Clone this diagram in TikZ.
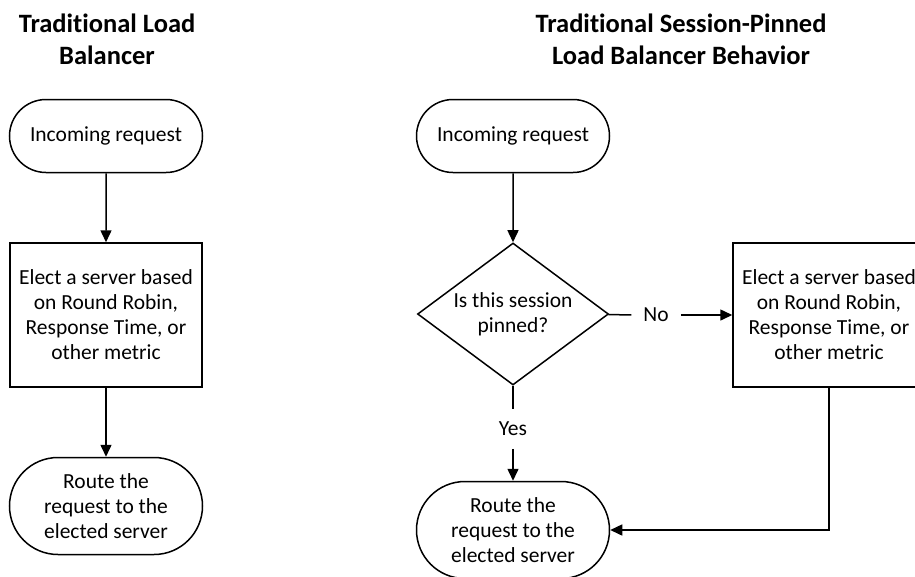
\documentclass[tikz,border=0pt]{standalone}
\usepackage{tikz}
\usetikzlibrary{positioning,shapes.geometric,shapes.misc}
\usetikzlibrary{arrows.meta}
\usepackage{fontspec}
\setmainfont[Ligatures=NoCommon]{Carlito}

\begin{document}
\begin{tikzpicture}[x=1pt, y=-1pt,
	>={Triangle[length=12pt,width=11pt]},
	every node/.style={font=\fontsize{21.5}{25}\selectfont, align=center, line width=1.5pt},
	title/.style={font=\fontsize{26.5}{32}\selectfont\bfseries},
	term/.style={rounded rectangle, draw, minimum width=193pt, inner sep=0pt},
	proc/.style={rectangle, draw, minimum width=192pt, minimum height=144pt, inner sep=0pt},
	decide/.style={diamond, draw, aspect=1.35, minimum width=191pt, minimum height=142pt, inner sep=0pt},
	answer/.style={inner sep=0pt, minimum width=48pt, minimum height=38pt}
	]
	\useasboundingbox (0,0) rectangle (915,576);

	\node[title] (t1) at (107,39) {Traditional Load\\Balancer};
	\node[title] (t2) at (681,39) {Traditional Session-Pinned\\Load Balancer Behavior};

	\node[term, minimum height=73pt] (in1) at (106,136) {Incoming request};
	\node[proc] (elect1) at (106,315) {Elect a server based\\on Round Robin,\\Response Time, or\\other metric};
	\node[term, minimum height=97pt] (route1) at (106,506) {Route the\\request to the\\elected server};

	\node[term, minimum height=73pt] (in2) at (513,136) {Incoming request};
	\node[decide] (pinned) at (513,314) {Is this session\\pinned?};
	\node[answer] (no) at (656,315) {No};
	\node[proc] (elect2) at (829,315) {Elect a server based\\on Round Robin,\\Response Time, or\\other metric};
	\node[answer] (yes) at (513,429) {Yes};
	\node[term, minimum height=97pt] (route2) at (513,530) {Route the\\request to the\\elected server};

	\draw[->, line width=1.5pt] (in1) to (elect1);
	\draw[->, line width=1.5pt] (elect1) to (route1);
	\draw[->, line width=1.5pt] (in2) to (pinned);
	\draw[line width=1.5pt] (pinned) to (no);
	\draw[->, line width=1.5pt] (no) to (elect2);
	\draw[line width=1.5pt] (pinned) to (yes);
	\draw[->, line width=1.5pt] (yes) to (route2);
	\draw[->, line width=1.5pt] (elect2.south) |- (route2.east);
\end{tikzpicture}
\end{document}
